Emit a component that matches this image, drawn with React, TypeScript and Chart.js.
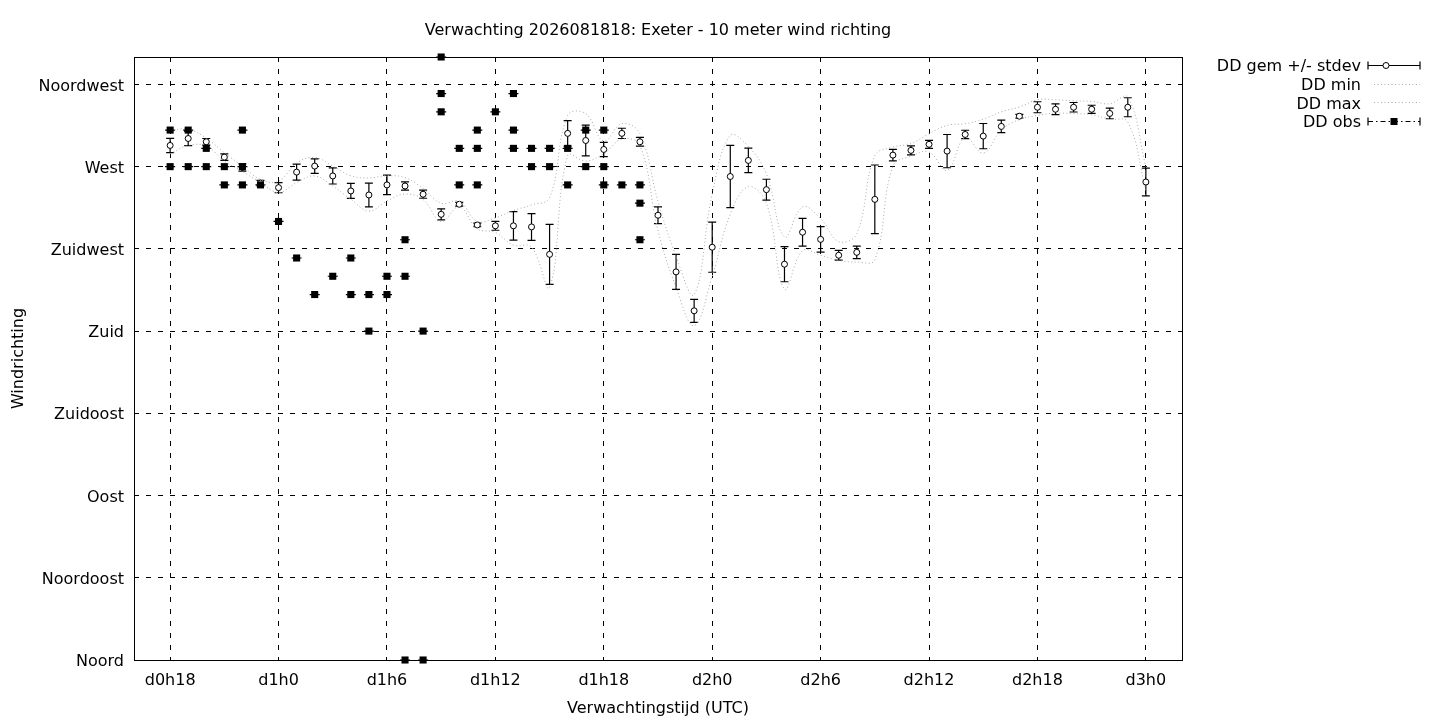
import { useEffect, useRef } from 'react';
import { Chart, registerables } from 'chart.js';

Chart.register(...registerables);

// forecast hours since d0h0
const hours = [
    18, 19, 20, 21, 22, 23, 24, 25, 26, 27, 28, 29, 30, 31, 32, 33, 34, 35, 36,
    37, 38, 39, 40, 41, 42, 43, 44, 45, 46, 47, 48, 49, 50, 51, 52, 53, 54, 55,
    56, 57, 58, 59, 60, 61, 62, 63, 64, 65, 66, 67, 68, 69, 70, 71, 72
];
const ddMean = [
    281.6, 285.4, 283.6, 275.2, 269.5, 261, 258.5, 267, 270.3, 264.9, 256.7, 254.5, 260, 259.4, 254.9, 243.9, 249.4, 238.1, 237.6,
    237.6, 237, 222, 288.2, 284.3, 279.4, 288.2, 283.6, 243.4, 212.4, 191.1, 225.9, 264.6, 273.4, 257.4, 216.6, 234.1, 230.2, 221.5,
    223.1, 252.1, 276.3, 278.9, 282.2, 278.5, 287.6, 286.7, 292, 297.6, 302.5, 301.4, 302.5, 301.4, 299.1, 302.5, 261.6
];
const ddStdev = [
    3.9, 3.9, 1.8, 1.8, 2, 1.5, 2.8, 4.4, 4, 4.4, 4.1, 6.5, 5.3, 2.3, 2.2, 3, 1, 1, 2.4,
    7.8, 7.3, 16.4, 7, 8.4, 3.9, 2.8, 2.4, 4.6, 9.6, 6.3, 13.7, 17, 6.7, 5.7, 9.6, 7.6, 7, 2.7,
    3.4, 18.8, 3.2, 2.5, 2.2, 9.1, 2.3, 6.9, 3.4, 1, 3, 2.9, 2.6, 2.2, 2.9, 5.2, 7.6
];
const ddMin = [
    277, 281.6, 281.3, 273, 267.3, 261.3, 255.8, 261.3, 264.9, 259.4, 252.1, 245.7, 251.2, 255, 252, 240, 248, 236, 234,
    227, 226, 204, 276, 273, 277, 285, 281.6, 235, 204, 183, 210, 244, 259, 250, 203, 224, 221.5, 218.7,
    217.8, 219, 270.3, 275.7, 278, 268, 286, 277.4, 290, 295.7, 298, 299.3, 299, 298.4, 296, 294.4, 257
];
const ddMax = [
    290, 290.4, 285.6, 277.6, 270.3, 263, 262, 272, 275, 270.3, 265, 263.8, 265, 264, 258, 250, 251, 240, 242,
    246, 249, 253, 298, 299, 284, 293.6, 288, 251, 221, 200, 255, 287, 281, 266, 231.5, 248, 241.5, 229,
    233.3, 276, 280.7, 282.6, 288, 292.6, 293.5, 296, 300, 302.6, 306.6, 306.6, 306, 305.7, 304.4, 308, 270
];

// observations (several per hour)
const obsHours = [
    18, 18, 19, 19, 20, 20, 21, 21, 22, 22, 22, 23, 24, 25, 26, 27, 28, 28, 29, 29,
    30, 30, 31, 31, 31, 32, 32, 33, 33, 33, 34, 34, 35, 35, 35, 36, 37, 37, 37,
    38, 38, 39, 39, 40, 40, 41, 41, 42, 42, 42, 43, 44, 44, 44
];
const obsDirs = [
    290, 270, 290, 270, 280, 270, 270, 260, 290, 270, 260, 260, 240, 220, 200, 210, 220, 200, 200, 180,
    210, 200, 230, 210, 0, 180, 0, 330, 310, 300, 280, 260, 290, 280, 260, 300, 310, 290, 280,
    280, 270, 280, 270, 280, 260, 290, 270, 290, 270, 260, 260, 260, 250, 230
];

const xTickHours = [18, 24, 30, 36, 42, 48, 54, 60, 66, 72];
const xTickLabels = ['d0h18', 'd1h0', 'd1h6', 'd1h12', 'd1h18', 'd2h0', 'd2h6', 'd2h12', 'd2h18', 'd3h0'];
const yTickValues = [0, 45, 90, 135, 180, 225, 270, 315];
const yTickLabels = ['Noord', 'Noordoost', 'Oost', 'Zuidoost', 'Zuid', 'Zuidwest', 'West', 'Noordwest'];

const chartTitle = 'Verwachting 2026081818: Exeter - 10 meter wind richting';
const FONT = 'DejaVu Sans';
const CAP = 4;
const MINMAX_COLOR = '#a8a8a8';

const errorBarPlugin = {
    id: 'errorBars',
    beforeDatasetsDraw(chart: any) {
        const { ctx } = chart;
        const x = chart.scales.x;
        const y = chart.scales.y;
        ctx.save();
        ctx.strokeStyle = '#000';
        ctx.lineWidth = 1.2;
        ctx.beginPath();
        hours.forEach((h, i) => {
            const px = x.getPixelForValue(h);
            const top = y.getPixelForValue(ddMean[i] + ddStdev[i]);
            const bot = y.getPixelForValue(ddMean[i] - ddStdev[i]);
            ctx.moveTo(px, top); ctx.lineTo(px, bot);
            ctx.moveTo(px - CAP, top); ctx.lineTo(px + CAP, top);
            ctx.moveTo(px - CAP, bot); ctx.lineTo(px + CAP, bot);
        });
        obsHours.forEach((h, i) => {
            const px = x.getPixelForValue(h);
            const py = y.getPixelForValue(obsDirs[i]);
            ctx.moveTo(px - CAP - 1, py); ctx.lineTo(px + CAP + 1, py);
        });
        ctx.stroke();
        ctx.restore();
    }
};

const framePlugin = {
    id: 'frame',
    afterDraw(chart: any) {
        const { ctx, chartArea: a } = chart;
        ctx.save();
        ctx.strokeStyle = '#000';
        ctx.lineWidth = 1;
        ctx.strokeRect(Math.round(a.left) + 0.5, Math.round(a.top) + 0.5, Math.round(a.right - a.left), Math.round(a.bottom - a.top));

        ctx.fillStyle = '#000';
        ctx.font = `16px "${FONT}"`;
        ctx.textAlign = 'center';
        ctx.textBaseline = 'middle';
        ctx.fillText(chartTitle, (a.left + a.right) / 2, 31);

        // key
        const ds = chart.data.datasets;
        const textRight = 1361;
        const x0 = 1368;
        const x1 = 1420;
        const xm = (x0 + x1) / 2;
        ds.forEach((d: any, i: number) => {
            const ry = 67 + i * 18.7;
            ctx.textAlign = 'right';
            ctx.fillStyle = '#000';
            ctx.fillText(d.label, textRight, ry);
            const ly = Math.round(ry - 2) + 0.5;
            ctx.beginPath();
            if (i === 1 || i === 2) {
                ctx.strokeStyle = MINMAX_COLOR;
                ctx.lineWidth = 1;
                ctx.setLineDash([1, 2.5]);
                ctx.moveTo(x0 + 6, ly); ctx.lineTo(x1, ly);
                ctx.stroke();
                ctx.setLineDash([]);
                return;
            }
            ctx.strokeStyle = '#000';
            ctx.lineWidth = 1.2;
            ctx.setLineDash(i === 3 ? [5, 3, 1.5, 3] : []);
            ctx.moveTo(x0, ly); ctx.lineTo(x1, ly);
            ctx.stroke();
            ctx.setLineDash([]);
            ctx.beginPath();
            ctx.moveTo(x0, ly - CAP); ctx.lineTo(x0, ly + CAP);
            ctx.moveTo(x1, ly - CAP); ctx.lineTo(x1, ly + CAP);
            ctx.stroke();
            if (i === 0) {
                ctx.beginPath();
                ctx.arc(xm - 8, ly, 3, 0, Math.PI * 2);
                ctx.fillStyle = '#fff';
                ctx.fill();
                ctx.lineWidth = 1;
                ctx.stroke();
            } else {
                ctx.fillStyle = '#000';
                ctx.fillRect(xm - 3.5, ly - 3.5, 7, 7);
            }
        });
        ctx.restore();
    }
};

export default function App() {
    const canvasRef = useRef<HTMLCanvasElement>(null);

    useEffect(() => {
        document.body.style.margin = '0';
        if (!canvasRef.current) return;
        const ctx = canvasRef.current.getContext('2d');
        if (!ctx) return;

        Chart.defaults.font.family = FONT;
        Chart.defaults.color = '#000';

        const toXY = (vals: number[]) => hours.map((h, i) => ({ x: h, y: vals[i] }));

        const chart = new Chart(ctx, {
            type: 'line',
            data: {
                datasets: [
                    {
                        label: 'DD gem +/- stdev',
                        data: toXY(ddMean),
                        showLine: false,
                        pointStyle: 'circle',
                        pointRadius: 3,
                        pointBorderWidth: 1,
                        pointBackgroundColor: '#fff',
                        pointBorderColor: '#000',
                        order: 4
                    },
                    {
                        label: 'DD min',
                        data: toXY(ddMin),
                        borderColor: MINMAX_COLOR,
                        borderWidth: 1,
                        borderDash: [1, 2.5],
                        tension: 0.4,
                        pointRadius: 0,
                        order: 3
                    },
                    {
                        label: 'DD max',
                        data: toXY(ddMax),
                        borderColor: MINMAX_COLOR,
                        borderWidth: 1,
                        borderDash: [1, 2.5],
                        tension: 0.4,
                        pointRadius: 0,
                        order: 2
                    },
                    {
                        label: 'DD obs',
                        data: obsHours.map((h, i) => ({ x: h, y: obsDirs[i] })),
                        showLine: false,
                        pointStyle: 'rect',
                        pointRadius: 5,
                        pointBorderWidth: 0,
                        pointBackgroundColor: '#000',
                        clip: false,
                        order: 1
                    }
                ]
            },
            options: {
                responsive: false,
                animation: false,
                events: [],
                layout: { padding: { left: 0, top: 57, right: 258, bottom: 0 } },
                scales: {
                    x: {
                        type: 'linear',
                        min: 16,
                        max: 74,
                        afterBuildTicks: (s: any) => { s.ticks = xTickHours.map(v => ({ value: v })); },
                        afterFit: (s: any) => { s.height = 60; },
                        ticks: {
                            autoSkip: false,
                            maxRotation: 0,
                            padding: 11,
                            font: { size: 16 },
                            callback: (v: any) => xTickLabels[xTickHours.indexOf(Number(v))] ?? ''
                        },
                        grid: { color: '#000', lineWidth: 1, drawTicks: false },
                        border: { display: false, dash: [5, 7] },
                        title: {
                            display: true,
                            text: 'Verwachtingstijd (UTC)',
                            font: { size: 16 },
                            padding: { top: 0, bottom: 2 }
                        }
                    },
                    y: {
                        type: 'linear',
                        min: 0,
                        max: 330,
                        afterBuildTicks: (s: any) => { s.ticks = yTickValues.map(v => ({ value: v })); },
                        afterFit: (s: any) => { s.width = 134; },
                        ticks: {
                            autoSkip: false,
                            padding: 10,
                            labelOffset: 2,
                            font: { size: 16 },
                            callback: (v: any) => yTickLabels[yTickValues.indexOf(Number(v))] ?? ''
                        },
                        grid: { color: '#000', lineWidth: 1, drawTicks: false },
                        border: { display: false, dash: [5, 7] },
                        title: {
                            display: true,
                            text: 'Windrichting',
                            font: { size: 16 },
                            padding: { top: 9, bottom: 0 }
                        }
                    }
                },
                plugins: {
                    legend: { display: false },
                    tooltip: { enabled: false },
                    title: { display: false }
                }
            },
            plugins: [errorBarPlugin, framePlugin]
        });

        return () => {
            chart.destroy();
        };
    }, []);

    return (
        <div style={{ width: 1440, height: 720, background: '#fff' }}>
            <canvas ref={canvasRef} width={1440} height={720} style={{ display: 'block' }} />
        </div>
    );
}
